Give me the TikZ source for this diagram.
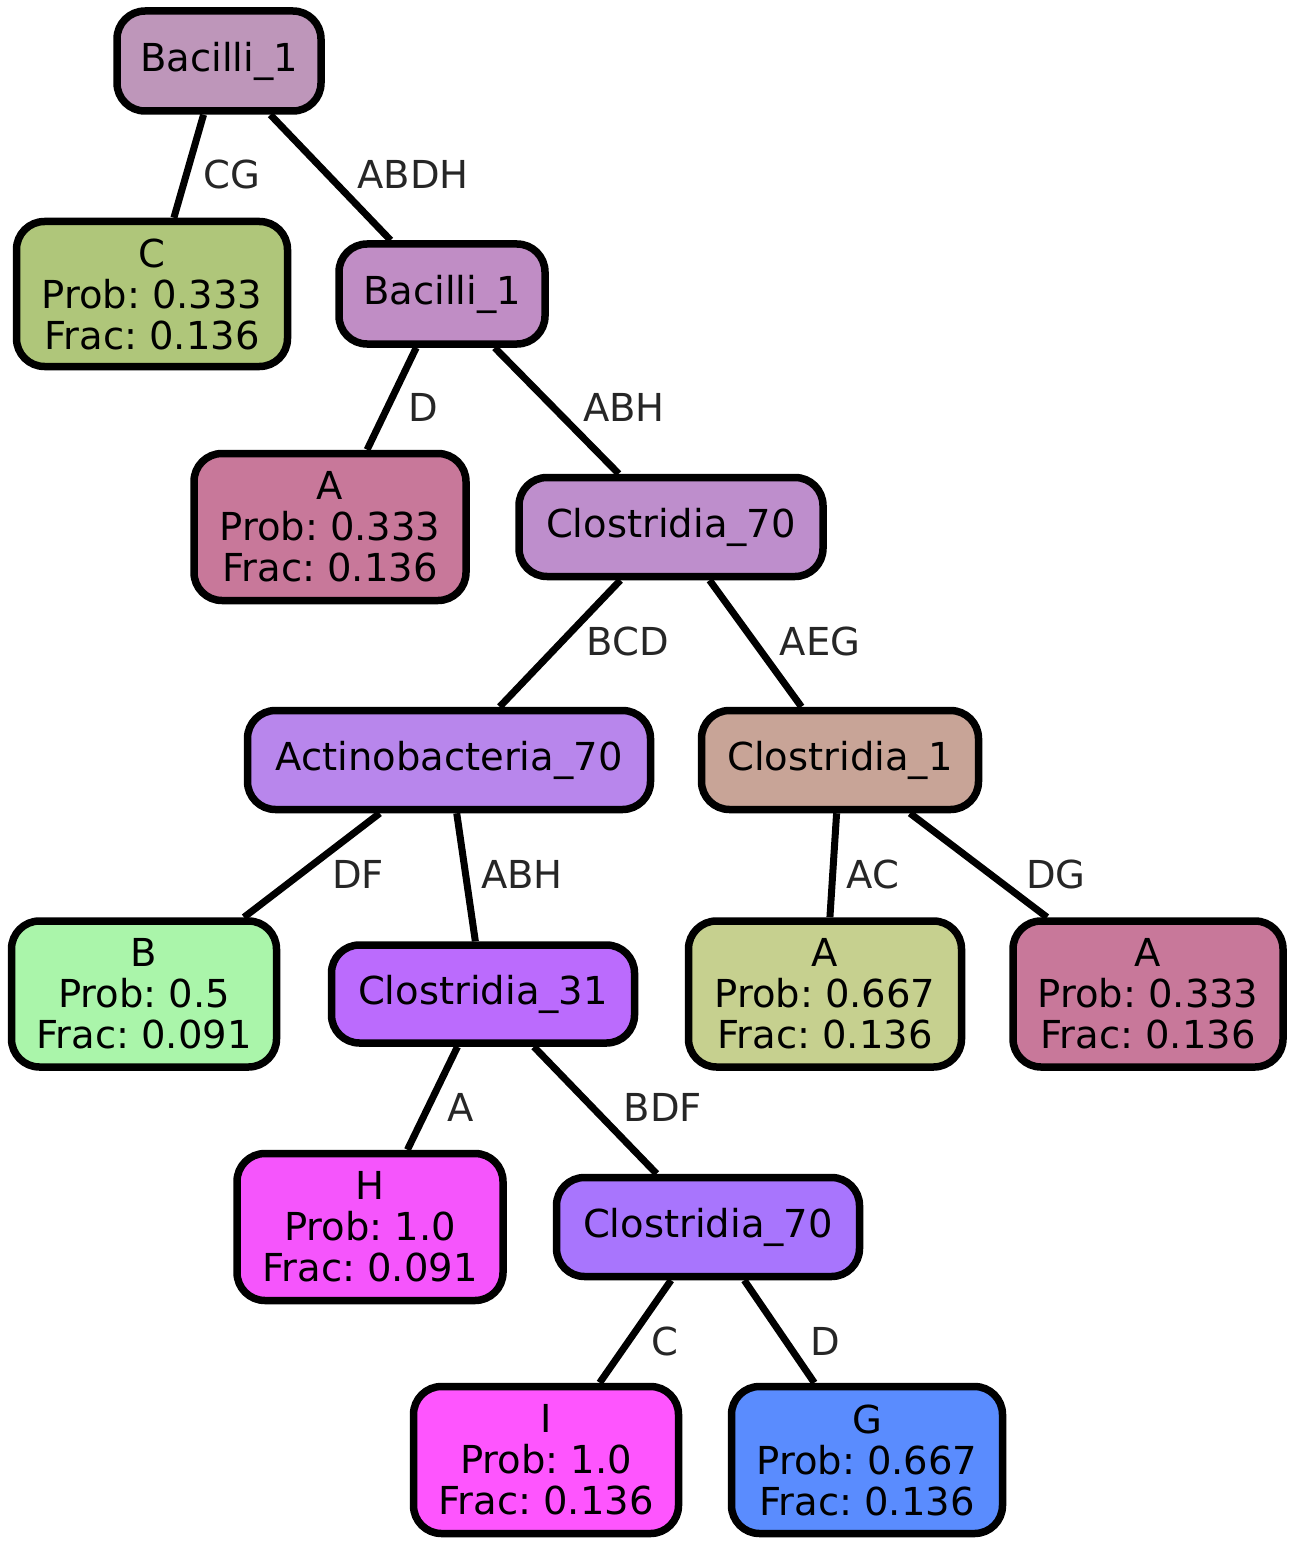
\documentclass[tikz,border=0pt]{standalone}
\usepackage{fontspec}
\setmainfont{DejaVu Sans}
\frenchspacing
\definecolor{cBacA}{HTML}{BE96BA}
\definecolor{cC}{HTML}{AFC67A}
\definecolor{cBacB}{HTML}{C08DC5}
\definecolor{cPink}{HTML}{C8789A}
\definecolor{cClosA}{HTML}{BE8ECC}
\definecolor{cActi}{HTML}{B886EC}
\definecolor{cClosOne}{HTML}{C8A497}
\definecolor{cB}{HTML}{AAF5AA}
\definecolor{cClosThree}{HTML}{BB6BFD}
\definecolor{cGreenA}{HTML}{C6D08F}
\definecolor{cH}{HTML}{F555FC}
\definecolor{cClosB}{HTML}{A875FD}
\definecolor{cI}{HTML}{FE55FE}
\definecolor{cG}{HTML}{5A8CFE}
\begin{document}
\begin{tikzpicture}[x=1pt,y=-1pt,
  box/.style={draw=black, line width=7.5pt, rounded corners=28pt, inner sep=0pt,
    align=center, font=\fontsize{38.5}{41}\selectfont},
  elab/.style={text=black!85, font=\fontsize{38.5}{41}\selectfont, inner sep=0pt},
  link/.style={line width=7pt, draw=black}]
\useasboundingbox (0,0) rectangle (1294,1546);

\node[box, fill=cBacA, minimum width=204pt, minimum height=100pt] (n1) at (219,61) {Bacilli\_1};
\node[box, fill=cC, minimum width=271pt, minimum height=145pt] (n2) at (152,294) {C\\Prob: 0.333\\Frac: 0.136};
\node[box, fill=cBacB, minimum width=206pt, minimum height=100pt] (n3) at (442,294) {Bacilli\_1};
\node[box, fill=cPink, minimum width=272pt, minimum height=147pt] (n4) at (330,527) {A\\Prob: 0.333\\Frac: 0.136};
\node[box, fill=cClosA, minimum width=304pt, minimum height=99pt] (n5) at (671,527) {Clostridia\_70};
\node[box, fill=cActi, minimum width=403pt, minimum height=99pt] (n6) at (449,760) {Actinobacteria\_70};
\node[box, fill=cClosOne, minimum width=277pt, minimum height=99pt] (n7) at (840,760) {Clostridia\_1};
\node[box, fill=cB, minimum width=265pt, minimum height=146pt] (n8) at (144,994) {B\\Prob: 0.5\\Frac: 0.091};
\node[box, fill=cClosThree, minimum width=303pt, minimum height=98pt] (n9) at (483,994) {Clostridia\_31};
\node[box, fill=cGreenA, minimum width=273pt, minimum height=146pt] (n10) at (825,994) {A\\Prob: 0.667\\Frac: 0.136};
\node[box, fill=cPink, minimum width=270pt, minimum height=146pt] (n11) at (1148,994) {A\\Prob: 0.333\\Frac: 0.136};
\node[box, fill=cH, minimum width=266pt, minimum height=147pt] (n12) at (370,1227) {H\\Prob: 1.0\\Frac: 0.091};
\node[box, fill=cClosB, minimum width=303pt, minimum height=99pt] (n13) at (708,1227) {Clostridia\_70};
\node[box, fill=cI, minimum width=265pt, minimum height=147pt] (n14) at (546,1460) {I\\Prob: 1.0\\Frac: 0.136};
\node[box, fill=cG, minimum width=271pt, minimum height=147pt] (n15) at (867,1460) {G\\Prob: 0.667\\Frac: 0.136};

\draw[link] (n1) -- (n2);
\draw[link] (n1) -- (n3);
\draw[link] (n3) -- (n4);
\draw[link] (n3) -- (n5);
\draw[link] (n5) -- (n6);
\draw[link] (n5) -- (n7);
\draw[link] (n6) -- (n8);
\draw[link] (n6) -- (n9);
\draw[link] (n7) -- (n10);
\draw[link] (n7) -- (n11);
\draw[link] (n9) -- (n12);
\draw[link] (n9) -- (n13);
\draw[link] (n13) -- (n14);
\draw[link] (n13) -- (n15);

\node[elab] (l1) at (232,174) {CG};
\node[elab] (l2) at (413,174) {ABDH};
\node[elab] (l3) at (423,407) {D};
\node[elab] (l4) at (624,407) {ABH};
\node[elab] (l5) at (628,641) {BCD};
\node[elab] (l6) at (820,641) {AEG};
\node[elab] (l7) at (358,874) {DF};
\node[elab] (l8) at (522,874) {ABH};
\node[elab] (l9) at (873,874) {AC};
\node[elab] (l10) at (1056,874) {DG};
\node[elab] (l11) at (461,1107) {A};
\node[elab] (l12) at (663,1107) {BDF};
\node[elab] (l13) at (665,1341) {C};
\node[elab] (l14) at (825,1341) {D};
\end{tikzpicture}
\end{document}
